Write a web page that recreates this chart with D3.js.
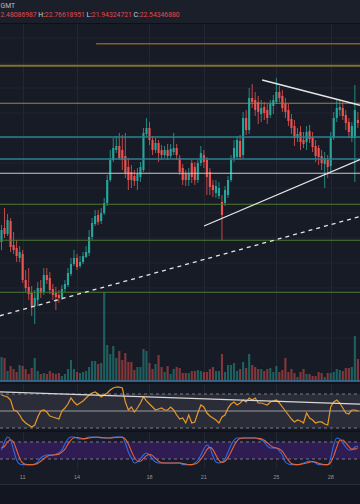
<!DOCTYPE html>
<html>
<head>
<meta charset="utf-8">
<script src="https://cdn.jsdelivr.net/npm/d3@7"></script>
<style>
html, body { margin: 0; padding: 0; background: #131620; overflow: hidden; }
svg { display: block; font-family: Roboto, "DejaVu Sans", sans-serif; }
</style>
</head>
<body>
<svg id="chart" width="360" height="504"></svg>
<script>
// 4h candles, index 0 = 9th 20:00
var openP  = [17.82,18.38,18.14,18.66,17.7,17.58,17.18,17.34,16.3,16.02, 15.78,15.26,15.5,15.98,15.82,16.5,16.38,15.94,15.78,15.7,
              15.58,15.94,16.1,16.54,16.94,17.18,16.86,17.02,17.22,17.38, 18.02,18.54,18.9,18.66,18.98,19.38,20.3,21.1,21.5,21.66,
              21.5,21.26,20.82,20.62,20.46,20.26,20.42,20.7,22.14,22.38, 21.9,21.5,21.78,21.5,21.3,21.5,21.26,21.42,21.58,21.18,
              20.78,20.54,20.3,20.98,20.82,20.3,20.98,21.3,21.1,20.62, 20.1,19.78,19.66,19.42,19.38,19.7,20.3,21.18,21.22,21.86,
              21.3,22.78,22.3,23.58,23.5,23.42,22.94,23.22,23.1,22.9, 23.26,23.42,23.82,23.66,23.34,23.1,22.74,22.46,21.98,22.22,
              21.9,21.82,22.26,22.02,21.66,21.58,21.26,20.94,21.1,20.86, 21.98,22.78,23.1,23.18,22.9,22.62,21.98,21.98,22.7];
var highP  = [18.5,19.18,18.94,18.78,18.22,17.9,17.66,17.5,16.7,16.78, 16.06,15.9,16.22,16.3,16.78,16.78,16.62,16.14,16.02,15.9,
              16.1,16.3,16.78,17.18,17.5,17.34,17.26,17.42,17.66,18.3, 18.78,19.1,19.1,19.18,19.58,20.5,21.5,21.98,22.06,22.18,
              22.1,22.18,21.18,20.9,20.7,20.78,21.02,22.38,22.78,22.62, 22.06,21.98,21.9,21.7,21.66,21.74,21.74,22.18,21.74,21.3,
              20.94,20.7,20.78,21.1,21.02,21.1,21.66,21.5,21.22,20.78, 20.3,20.3,20.22,19.7,20.06,20.46,21.3,21.9,22.06,22.1,
              23.02,23.1,23.98,24.14,23.82,23.66,23.5,23.42,23.34,23.5, 23.7,24.38,24.06,23.9,23.58,23.34,22.94,22.7,22.38,22.46,
              22.22,22.46,22.5,22.22,21.9,21.7,21.5,21.42,21.3,22.22, 23.02,23.5,23.5,23.42,23.1,22.78,22.62,24.1,23.02];
var lowP   = [17.5,17.98,18.06,17.42,17.34,17.02,17.02,16.18,15.82,15.5, 14.86,14.54,15.26,15.58,15.7,16.14,15.74,15.5,15.1,15.38,
              15.5,15.82,16.02,16.46,16.86,16.7,16.78,16.94,17.18,17.26, 17.9,18.46,18.5,18.54,18.9,19.26,20.22,21.02,21.38,21.1,
              20.7,20.38,19.9,19.98,20.06,19.9,20.22,20.62,22.02,21.7, 21.3,21.38,21.02,21.1,21.18,21.1,21.18,21.3,21.1,20.5,
              20.1,20.06,20.06,20.18,20.1,20.18,20.86,20.78,19.7,19.7, 19.62,19.58,19.54,17.9,19.26,19.58,20.22,21.02,21.1,21.1,
              21.18,22.1,22.14,23.18,22.86,22.54,22.62,22.7,22.54,22.78, 22.94,23.34,23.42,23.02,22.78,22.46,22.14,21.66,21.82,21.5,
              21.58,21.5,21.78,21.42,21.02,20.9,20.7,19.98,20.38,20.62, 21.9,22.62,22.86,22.7,22.3,21.98,21.82,20.22,22.38];
var closeP = [18.3,18.14,18.7,17.62,17.5,17.26,17.42,16.3,15.98,15.74, 15.26,15.58,15.98,15.78,16.5,16.3,15.9,15.7,15.62,15.58,
              15.94,16.14,16.58,16.94,17.18,16.82,17.02,17.26,17.42,18.02, 18.58,18.86,18.62,18.98,19.38,20.3,21.1,21.58,21.66,21.18,
              21.1,20.58,20.3,20.3,20.26,20.54,20.82,22.18,22.38,21.9, 21.5,21.78,21.38,21.3,21.5,21.26,21.54,21.58,21.3,20.62,
              20.3,20.3,20.54,20.42,20.3,20.98,21.38,21.02,20.42,20.02, 19.9,20.06,19.98,18.9,19.9,20.3,21.1,21.58,21.9,21.22,
              22.78,22.3,23.58,23.42,23.1,23.02,23.18,22.98,22.78,23.34, 23.5,23.82,23.58,23.18,23.02,22.66,22.38,21.98,22.14,21.82,
              21.74,22.22,21.94,21.62,21.26,21.22,20.98,21.18,20.82,21.98, 22.78,23.18,23.22,22.86,22.58,22.22,22.46,23.1,22.58];
var volume = [24,23,10,15,12,9,16,15,12,7, 13,23,10,7,8,7,10,8,7,8, 5,7,12,21,12,9,8,9,10,14,
              20,20,17,18,89,36,27,35,23,30, 21,28,19,19,11,14,14,32,30,18, 12,17,26,14,9,15,7,12,14,13,
              8,8,8,10,10,11,10,9,9,12, 14,10,10,27,9,16,16,18,10,12, 19,13,27,16,14,12,12,10,12,13,
              9,15,9,11,23,9,12,8,4,9, 12,7,7,5,5,9,8,4,8,8, 9,12,11,10,13,13,14,45,22];
var rsi = [68.8,67.6,66.5,62.9,51.2,50,45.3,39.4,35.9,33.5, 31.2,33.5,42.9,50,51.2,48.8,44.1,42.9,41.8,40.6,
           50,53.5,58.2,65.3,60.6,57.1,59.4,61.8,65.3,68.8, 71.2,72.4,70,66.5,68.8,71.2,74.7,77.1,78.2,78.2,
           77.1,60.6,51.2,54.7,48.8,53.5,59.4,66.5,61.8,58.2, 54.7,51.2,52.4,53.5,51.2,51.2,54.7,51.2,45.3,40.6,
           41.8,35.9,45.3,35.9,37.1,47.6,57.1,54.7,47.6,44.1, 41.8,39.4,35.9,42.9,45.3,53.5,58.2,60.6,57.1,59.4,
           62.9,60.6,65.3,62.9,65.3,59.4,59.4,58.2,57.1,60.6, 61.8,62.9,59.4,54.7,50,45.3,40.6,37.1,39.4,38.2,
           35.9,47.6,41.8,39.4,35.9,37.1,37.1,34.7,33.5,54.7, 60.6,62.9,59.4,53.5,47.6,46.5,51.2,51.2,50];
var stochK = [51.8,80,97.6,87.1,51.8,16.5,2.4,0,0,0, 0,2.4,9.4,23.5,30.6,34.1,34.1,34.1,37.6,41.2,
              51.8,73,90.6,97.6,97.6,94.1,90.6,90.6,94.1,97.6, 97.6,97.6,97.6,94.1,94.1,94.1,94.1,97.6,97.6,97.6,
              97.6,76.5,44.7,23.5,5.9,9.4,20,34.1,41.2,34.1, 20,9.4,5.9,5.9,5.9,5.9,5.9,5.9,5.9,5.9,
              0,0,0,0,5.9,16.5,34.1,55.3,69.4,58.8, 30.6,9.4,5.9,9.4,20,44.7,69.4,87.1,94.1,94.1,
              94.1,94.1,94.1,94.1,94.1,90.6,87.1,80,65.9,58.8, 58.8,58.8,48.2,34.1,9.4,2.4,0,0,0,2.4,
              5.9,9.4,12.9,9.4,5.9,0,0,0,0,23.5, 69.4,94.1,90.6,76.5,62.4,51.8,51.8,62.4,65.9];
var stochD = [60,65,80,88,79,52,23,6,1,0, 0,1,4,12,21,29,33,34,35,37,
              44,55,72,87,95,96,94,92,92,94, 96,97,97,96,95,94,94,95,96,97,
              97,90,73,48,25,13,12,21,32,36, 32,21,12,7,6,6,6,6,6,6,
              4,2,0,0,2,7,19,35,53,61, 53,33,15,8,12,25,45,67,84,92,
              94,94,94,94,94,93,91,86,78,68, 61,59,55,47,31,15,4,1,0,1,
              3,6,9,11,9,5,2,0,0,8, 31,62,85,87,77,64,55,55,60];

// drawn levels and trendlines (price units, candle index units)
var levelPrices = [25.75, 24.87, 23.37, 22.02, 21.14, 20.57, 19.33, 17.89, 15.81];
var levelStart  = [31.3, -1, -1, -1, -1, -1, -1, -1, -1];
var levelColors = ["#8a5a2c", "#807036", "#9a8540", "#2c8290", "#2c8290", "#c9c9c9", "#4c7a30", "#4c7a30", "#4c7a30"];
var levelWidths = [1.3, 2, 1, 1.3, 1.3, 1, 1.2, 1.2, 1.2];
var trendLines = [
    {pts: [[86.3, 24.30], [118.7, 23.29]], dash: null},
    {pts: [[67.05, 18.46], [118.7, 21.12]], dash: null},
    {pts: [[-0.5, 14.87], [118.7, 18.84]], dash: "4,4"}
];
var rsiTrend = [[-0.5, 72.4], [118.7, 58.2]];

var tickIdx = [7, 25, 49, 67, 91, 109];
var tickLabels = ["11", "14", "18", "21", "25", "28"];
// legend line as it shows at the left edge (the "O:2" in front is off screen)
var headerLabels = ["", "H:", "L:", "C:"];
var headerValues = ["2.48086987", "22.76618951", "21.94324721", "22.54346880"];

var UP = "#26a69a", DOWN = "#ef5350";
var BG = "#171b26";

var svg = d3.select("#chart");
var n = openP.length;

var x = d3.scaleBand().domain(d3.range(n)).range([0, 359.4]).paddingInner(0.3).paddingOuter(0.15);
var xi = d3.scaleLinear().domain([-0.5, n - 0.5]).range([0, 359.4]);
function xc(i) { return x(i) + x.bandwidth() / 2; }

var yP = d3.scaleLinear().domain([27.5, 17.5]).range([0, 250]);
var yV = d3.scaleLinear().domain([0, 100]).range([381, 281]);
var yR = d3.scaleLinear().domain([30, 70]).range([428, 394]);
var yS = d3.scaleLinear().domain([20, 80]).range([459, 442]);

// backgrounds
svg.append("rect").attr("x", 0).attr("y", 0).attr("width", 360).attr("height", 484).attr("fill", BG);
svg.append("rect").attr("x", 0).attr("y", 0).attr("width", 360).attr("height", 23).attr("fill", "#1b1f2a");
svg.append("line").attr("x1", 0).attr("x2", 360).attr("y1", 23.5).attr("y2", 23.5).attr("stroke", "#0e1016");
svg.append("rect").attr("x", 0).attr("y", 484).attr("width", 360).attr("height", 20).attr("fill", "#131620");
svg.append("line").attr("x1", 0).attr("x2", 360).attr("y1", 484.5).attr("y2", 484.5).attr("stroke", "#2a2e39");

var defs = svg.append("defs");
defs.append("clipPath").attr("id", "mainClip").append("rect")
    .attr("x", 0).attr("y", 24).attr("width", 360).attr("height", 358);
defs.append("clipPath").attr("id", "rsiClip").append("rect")
    .attr("x", 0).attr("y", 384).attr("width", 360).attr("height", 46);
defs.append("clipPath").attr("id", "stClip").append("rect")
    .attr("x", 0).attr("y", 432).attr("width", 360).attr("height", 36);

// vertical grid through all panes
svg.append("g").selectAll("line").data(tickIdx).join("line")
    .attr("x1", function (d) { return Math.round(xc(d)) + 0.5; })
    .attr("x2", function (d) { return Math.round(xc(d)) + 0.5; })
    .attr("y1", 24).attr("y2", 469)
    .attr("stroke", "#232733").attr("stroke-width", 1);

// main pane
var main = svg.append("g").attr("clip-path", "url(#mainClip)");

var gridAxis = d3.axisLeft(yP).tickValues(d3.range(14, 27, 1)).tickSize(-360).tickFormat("");
main.append("g").call(gridAxis)
    .call(function (g) { g.select(".domain").remove(); })
    .selectAll("line").attr("stroke", "#202430").attr("stroke-width", 1);

// volume
main.append("g").selectAll("rect").data(volume).join("rect")
    .attr("x", function (d, i) { return x(i); })
    .attr("width", x.bandwidth())
    .attr("y", function (d) { return yV(d); })
    .attr("height", function (d) { return yV(0) - yV(d); })
    .attr("fill", function (d, i) { return closeP[i] >= openP[i] ? UP : DOWN; })
    .attr("opacity", 0.5);
main.append("line").attr("x1", 0).attr("x2", 360).attr("y1", 381).attr("y2", 381)
    .attr("stroke", "#3b74a0").attr("stroke-width", 1.5);

// candles
var candles = main.append("g").selectAll("g").data(d3.range(n)).join("g");
candles.append("line")
    .attr("x1", function (i) { return xc(i); })
    .attr("x2", function (i) { return xc(i); })
    .attr("y1", function (i) { return yP(highP[i]); })
    .attr("y2", function (i) { return yP(lowP[i]); })
    .attr("stroke", function (i) { return closeP[i] >= openP[i] ? UP : DOWN; })
    .attr("stroke-width", 0.8);
candles.append("rect")
    .attr("x", function (i) { return x(i); })
    .attr("width", x.bandwidth())
    .attr("y", function (i) { return yP(Math.max(openP[i], closeP[i])); })
    .attr("height", function (i) { return Math.max(1, Math.abs(yP(openP[i]) - yP(closeP[i]))); })
    .attr("fill", function (i) { return closeP[i] >= openP[i] ? UP : DOWN; });

// horizontal levels
main.append("g").selectAll("line").data(levelPrices).join("line")
    .attr("x1", function (d, i) { return xi(levelStart[i]); })
    .attr("x2", 360)
    .attr("y1", function (d) { return yP(d); })
    .attr("y2", function (d) { return yP(d); })
    .attr("stroke", function (d, i) { return levelColors[i]; })
    .attr("stroke-width", function (d, i) { return levelWidths[i]; });

// trendlines
var tl = d3.line().x(function (p) { return xi(p[0]); }).y(function (p) { return yP(p[1]); });
main.append("g").selectAll("path").data(trendLines).join("path")
    .attr("d", function (d) { return tl(d.pts); })
    .attr("fill", "none")
    .attr("stroke", "#e6e6e6")
    .attr("stroke-width", 1.3)
    .attr("stroke-dasharray", function (d) { return d.dash; });

// RSI pane
svg.append("line").attr("x1", 0).attr("x2", 360).attr("y1", 383).attr("y2", 383).attr("stroke", "#10131a").attr("stroke-width", 2);
var rsiG = svg.append("g").attr("clip-path", "url(#rsiClip)");
rsiG.append("rect").attr("x", 0).attr("width", 360)
    .attr("y", yR(70)).attr("height", yR(30) - yR(70)).attr("fill", "#2a2d37");
rsiG.append("g").selectAll("line").data([70, 30]).join("line")
    .attr("x1", 0).attr("x2", 360)
    .attr("y1", function (d) { return yR(d); }).attr("y2", function (d) { return yR(d); })
    .attr("stroke", "#787b86").attr("stroke-dasharray", "3,3");
rsiG.append("line").attr("x1", 0).attr("x2", 360).attr("y1", yR(50)).attr("y2", yR(50))
    .attr("stroke", "#9a9da6").attr("stroke-width", 1);
rsiG.append("path").datum(rsi)
    .attr("d", d3.line().x(function (d, i) { return xc(i); }).y(function (d) { return yR(d); }))
    .attr("fill", "none").attr("stroke", "#e8982a").attr("stroke-width", 1.2);
rsiG.append("path").datum(rsiTrend)
    .attr("d", d3.line().x(function (p) { return xi(p[0]); }).y(function (p) { return yR(p[1]); }))
    .attr("fill", "none").attr("stroke", "#d8d8d8").attr("stroke-width", 1.3);

// Stoch RSI pane
svg.append("line").attr("x1", 0).attr("x2", 360).attr("y1", 431).attr("y2", 431).attr("stroke", "#10131a").attr("stroke-width", 2);
var stG = svg.append("g").attr("clip-path", "url(#stClip)");
stG.append("rect").attr("x", 0).attr("width", 360)
    .attr("y", yS(80)).attr("height", yS(20) - yS(80)).attr("fill", "#2e1c52");
stG.append("g").selectAll("line").data([80, 20]).join("line")
    .attr("x1", 0).attr("x2", 360)
    .attr("y1", function (d) { return yS(d); }).attr("y2", function (d) { return yS(d); })
    .attr("stroke", "#787b86").attr("stroke-dasharray", "3,3");
var stLine = d3.line().x(function (d, i) { return xc(i); }).y(function (d) { return yS(d); }).curve(d3.curveMonotoneX);
stG.append("path").datum(stochK).attr("d", stLine)
    .attr("fill", "none").attr("stroke", "#2f6be0").attr("stroke-width", 1.1);
stG.append("path").datum(stochD).attr("d", stLine)
    .attr("fill", "none").attr("stroke", "#e2643a").attr("stroke-width", 1.1);

// time axis
var xAxis = d3.axisBottom(x).tickValues(tickIdx)
    .tickFormat(function (d) { return tickLabels[tickIdx.indexOf(d)]; })
    .tickSize(0).tickPadding(0);
var axG = svg.append("g").attr("transform", "translate(0,475)").call(xAxis);
axG.select(".domain").remove();
axG.selectAll("text").attr("fill", "#8f939e").style("font-size", "5.5px").attr("dy", "0.35em").attr("y", 2);

// header legend
svg.append("text").attr("x", 0.5).attr("y", 8.3).attr("fill", "#b8bbc4")
    .style("font-size", "6.8px").text("GMT");
var hdr = svg.append("text").attr("x", 0.5).attr("y", 17.3).style("font-size", "6.8px");
headerLabels.forEach(function (lab, k) {
    if (lab) hdr.append("tspan").attr("fill", "#d1d4dc").text(" " + lab);
    hdr.append("tspan").attr("fill", "#e5484d").text(headerValues[k]);
});
</script>
</body>
</html>
